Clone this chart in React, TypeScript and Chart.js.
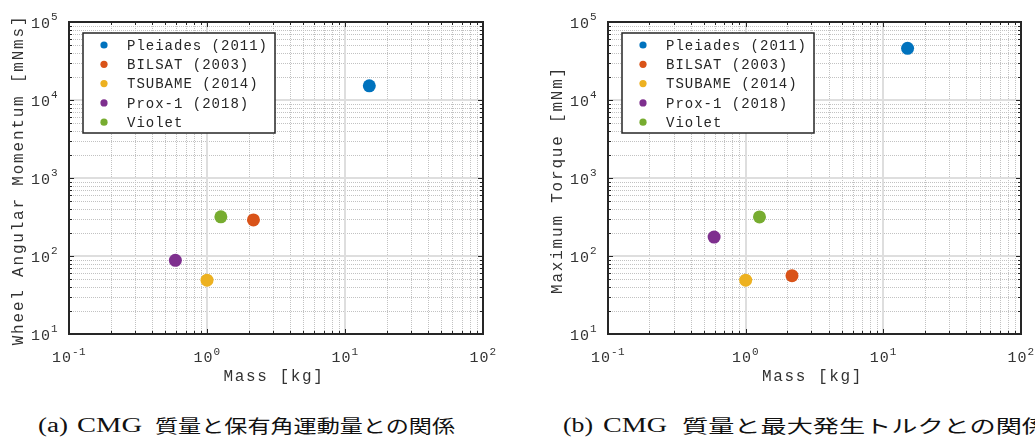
import React, { useEffect, useLayoutEffect, useRef } from 'react';
import { Chart, registerables } from 'chart.js';

Chart.register(...registerables);

// ---- data ----
const seriesNames = ['Pleiades (2011)', 'BILSAT (2003)', 'TSUBAME (2014)', 'Prox-1 (2018)', 'Violet'];
const seriesColors = ['#0072BD', '#D95319', '#EDB120', '#7E2F8E', '#77AC30'];
const massKg = [15, 2.17, 1.0, 0.59, 1.26];
const angularMomentum = [15200, 290, 49, 88, 318];
const maxTorque = [46000, 56, 49, 175, 317];
const xTickExponents = [-1, 0, 1, 2];
const yTickExponents = [1, 2, 3, 4, 5];

const MONO = '"Liberation Mono", "Courier New", monospace';
const SERIF = '"Liberation Serif", "Times New Roman", serif';
const CJK = '"Noto Sans CJK JP", "Noto Sans CJK SC", sans-serif';
const INK = '#262626';
const LABEL = '#333333';

function text(ctx: CanvasRenderingContext2D, s: string, x: number, y: number, size: number, spacing: number) {
  ctx.font = `${size}px ${MONO}`;
  (ctx as any).letterSpacing = `${spacing}px`;
  ctx.fillText(s, x, y);
  (ctx as any).letterSpacing = '0px';
}
function measure(ctx: CanvasRenderingContext2D, s: string, size: number, spacing: number) {
  ctx.font = `${size}px ${MONO}`;
  (ctx as any).letterSpacing = `${spacing}px`;
  const w = ctx.measureText(s).width;
  (ctx as any).letterSpacing = '0px';
  return w;
}

function minorValues(exps: number[]) {
  const out: number[] = [];
  for (let i = 0; i < exps.length - 1; i++) {
    for (let k = 2; k <= 9; k++) out.push(k * Math.pow(10, exps[i]));
  }
  return out;
}

const matlabAxesPlugin = {
  id: 'matlabAxes',
  beforeDatasetsDraw(chart: any) {
    const { ctx, chartArea } = chart;
    const { left, right, top, bottom } = chartArea;
    const xs = chart.scales.x;
    const ys = chart.scales.y;
    ctx.save();
    ctx.fillStyle = '#ffffff';
    ctx.fillRect(left, top, right - left, bottom - top);
    // minor grid
    ctx.strokeStyle = '#c2c2c2';
    ctx.lineWidth = 1;
    ctx.setLineDash([1, 1]);
    for (const v of minorValues(xTickExponents)) {
      const px = Math.round(xs.getPixelForValue(v)) + 0.5;
      ctx.beginPath(); ctx.moveTo(px, top); ctx.lineTo(px, bottom); ctx.stroke();
    }
    for (const v of minorValues(yTickExponents)) {
      const py = Math.round(ys.getPixelForValue(v)) + 0.5;
      ctx.beginPath(); ctx.moveTo(left, py); ctx.lineTo(right, py); ctx.stroke();
    }
    // major grid
    ctx.setLineDash([]);
    ctx.strokeStyle = '#dedede';
    ctx.lineWidth = 2;
    for (const e of xTickExponents) {
      const px = Math.round(xs.getPixelForValue(Math.pow(10, e)));
      ctx.beginPath(); ctx.moveTo(px, top); ctx.lineTo(px, bottom); ctx.stroke();
    }
    for (const e of yTickExponents) {
      const py = Math.round(ys.getPixelForValue(Math.pow(10, e)));
      ctx.beginPath(); ctx.moveTo(left, py); ctx.lineTo(right, py); ctx.stroke();
    }
    ctx.restore();
  },
  afterDatasetsDraw(chart: any, _args: any, opts: any) {
    const { ctx, chartArea } = chart;
    const { left, right, top, bottom } = chartArea;
    const xs = chart.scales.x;
    const ys = chart.scales.y;
    ctx.save();
    ctx.strokeStyle = INK;
    ctx.lineWidth = 1;
    // ticks
    const tick = (v: number, len: number, axis: 'x' | 'y') => {
      if (axis === 'x') {
        const px = Math.round(xs.getPixelForValue(v)) + 0.5;
        ctx.beginPath();
        ctx.moveTo(px, bottom); ctx.lineTo(px, bottom - len);
        ctx.moveTo(px, top); ctx.lineTo(px, top + len);
        ctx.stroke();
      } else {
        const py = Math.round(ys.getPixelForValue(v)) + 0.5;
        ctx.beginPath();
        ctx.moveTo(left, py); ctx.lineTo(left + len, py);
        ctx.moveTo(right, py); ctx.lineTo(right - len, py);
        ctx.stroke();
      }
    };
    for (const v of minorValues(xTickExponents)) tick(v, 3, 'x');
    for (const v of minorValues(yTickExponents)) tick(v, 3, 'y');
    for (const e of xTickExponents) tick(Math.pow(10, e), 5, 'x');
    for (const e of yTickExponents) tick(Math.pow(10, e), 5, 'y');
    // box
    ctx.lineWidth = 2;
    ctx.strokeRect(left, top, right - left, bottom - top);

    // tick labels
    ctx.fillStyle = LABEL;
    ctx.textAlign = 'left';
    ctx.textBaseline = 'alphabetic';
    const BASE = 15, BSP = 1, SUP = 11, SSP = 0.5;
    for (const e of xTickExponents) {
      const px = xs.getPixelForValue(Math.pow(10, e));
      const wb = measure(ctx, '10', BASE, BSP);
      const ws = measure(ctx, String(e), SUP, SSP);
      const x0 = px - (wb + ws) / 2;
      text(ctx, '10', x0, bottom + 28, BASE, BSP);
      text(ctx, String(e), x0 + wb, bottom + 21, SUP, SSP);
    }
    for (const e of yTickExponents) {
      const py = ys.getPixelForValue(Math.pow(10, e));
      const wb = measure(ctx, '10', BASE, BSP);
      const ws = measure(ctx, String(e), SUP, SSP);
      const x0 = left - 11 - (wb + ws);
      text(ctx, '10', x0, py + 6, BASE, BSP);
      text(ctx, String(e), x0 + wb, py - 2.5, SUP, SSP);
    }

    // axis titles
    ctx.textAlign = 'center';
    ctx.textBaseline = 'middle';
    text(ctx, opts.xTitle, (left + right) / 2 - 2, bottom + 43, 16, 1.6);
    ctx.save();
    ctx.translate(left - 50, (top + bottom) / 2 + 2);
    ctx.rotate(-Math.PI / 2);
    text(ctx, opts.yTitle, 0, 0, 16, 1.8);
    ctx.restore();

    // legend
    const bx = left + 14, by = top + 11, bw = 192, bh = 100;
    ctx.fillStyle = '#ffffff';
    ctx.fillRect(bx, by, bw, bh);
    ctx.lineWidth = 1.5;
    ctx.strokeStyle = INK;
    ctx.strokeRect(bx, by, bw, bh);
    chart.data.datasets.forEach((ds: any, i: number) => {
      const cy = top + 23 + i * 19.3;
      ctx.fillStyle = ds.backgroundColor;
      ctx.beginPath();
      ctx.arc(left + 35, cy, 3.6, 0, Math.PI * 2);
      ctx.fill();
      ctx.fillStyle = INK;
      ctx.textAlign = 'left';
      ctx.textBaseline = 'middle';
      text(ctx, ds.label, left + 58, cy + 1, 14, 1);
    });
    ctx.restore();
  },
};

function CmgChart(props: { values: number[]; yTitle: string; left: number; width: number; padLeft: number; padRight: number }) {
  const ref = useRef<HTMLCanvasElement>(null);
  useEffect(() => {
    if (!ref.current) return;
    const chart = new Chart(ref.current, {
      type: 'scatter',
      data: {
        datasets: seriesNames.map((name, i) => ({
          label: name,
          data: [{ x: massKg[i], y: props.values[i] }],
          backgroundColor: seriesColors[i],
          borderWidth: 0,
          pointRadius: 6.5,
          pointHoverRadius: 6.5,
        })),
      },
      options: {
        responsive: false,
        animation: false,
        events: [],
        layout: { padding: { left: props.padLeft, right: props.padRight, top: 22, bottom: 61 } },
        scales: {
          x: { type: 'logarithmic', min: 0.1, max: 100, display: false },
          y: { type: 'logarithmic', min: 10, max: 100000, display: false },
        },
        plugins: {
          legend: { display: false },
          tooltip: { enabled: false },
          matlabAxes: { xTitle: 'Mass [kg]', yTitle: props.yTitle },
        } as any,
      },
      plugins: [matlabAxesPlugin as any],
    });
    return () => chart.destroy();
  }, []);
  return (
    <canvas
      ref={ref}
      width={props.width}
      height={395}
      style={{ position: 'absolute', left: props.left, top: 0, width: props.width, height: 395, display: 'block' }}
    />
  );
}

type Seg = { text: string; left: number; width: number; cjk?: boolean };

function Caption({ segments }: { segments: Seg[] }) {
  const refs = useRef<(HTMLSpanElement | null)[]>([]);
  useLayoutEffect(() => {
    segments.forEach((s, i) => {
      const el = refs.current[i];
      if (!el) return;
      el.style.transform = 'none';
      const w = el.getBoundingClientRect().width;
      if (w > 0) el.style.transform = `scaleX(${s.width / w})`;
    });
  }, []);
  return (
    <>
      {segments.map((s, i) => (
        <span
          key={i}
          ref={(el) => { refs.current[i] = el; }}
          style={{
            position: 'absolute',
            left: s.left,
            top: s.cjk ? 416 : 415,
            transformOrigin: '0 0',
            whiteSpace: 'nowrap',
            fontFamily: s.cjk ? CJK : SERIF,
            fontSize: s.cjk ? 18 : 20,
            lineHeight: s.cjk ? '18px' : '20px',
            color: '#111',
          }}
        >
          {s.text}
        </span>
      ))}
    </>
  );
}

export default function App() {
  return (
    <div style={{ position: 'fixed', left: 0, top: 0, width: 1035, height: 439, overflow: 'hidden', background: '#fff' }}>
      <CmgChart values={angularMomentum} yTitle="Wheel Angular Momentum [mNms]" left={0} width={517} padLeft={69} padRight={34} />
      <CmgChart values={maxTorque} yTitle="Maximum Torque [mNm]" left={517} width={518} padLeft={91} padRight={14} />
      <Caption
        segments={[
          { text: '(a)', left: 38, width: 30 },
          { text: 'CMG', left: 77, width: 65 },
          { text: '質量と保有角運動量との関係', left: 155, width: 300, cjk: true },
        ]}
      />
      <Caption
        segments={[
          { text: '(b)', left: 563, width: 30 },
          { text: 'CMG', left: 603, width: 64 },
          { text: '質量と最大発生トルクとの関係', left: 682, width: 366, cjk: true },
        ]}
      />
    </div>
  );
}
